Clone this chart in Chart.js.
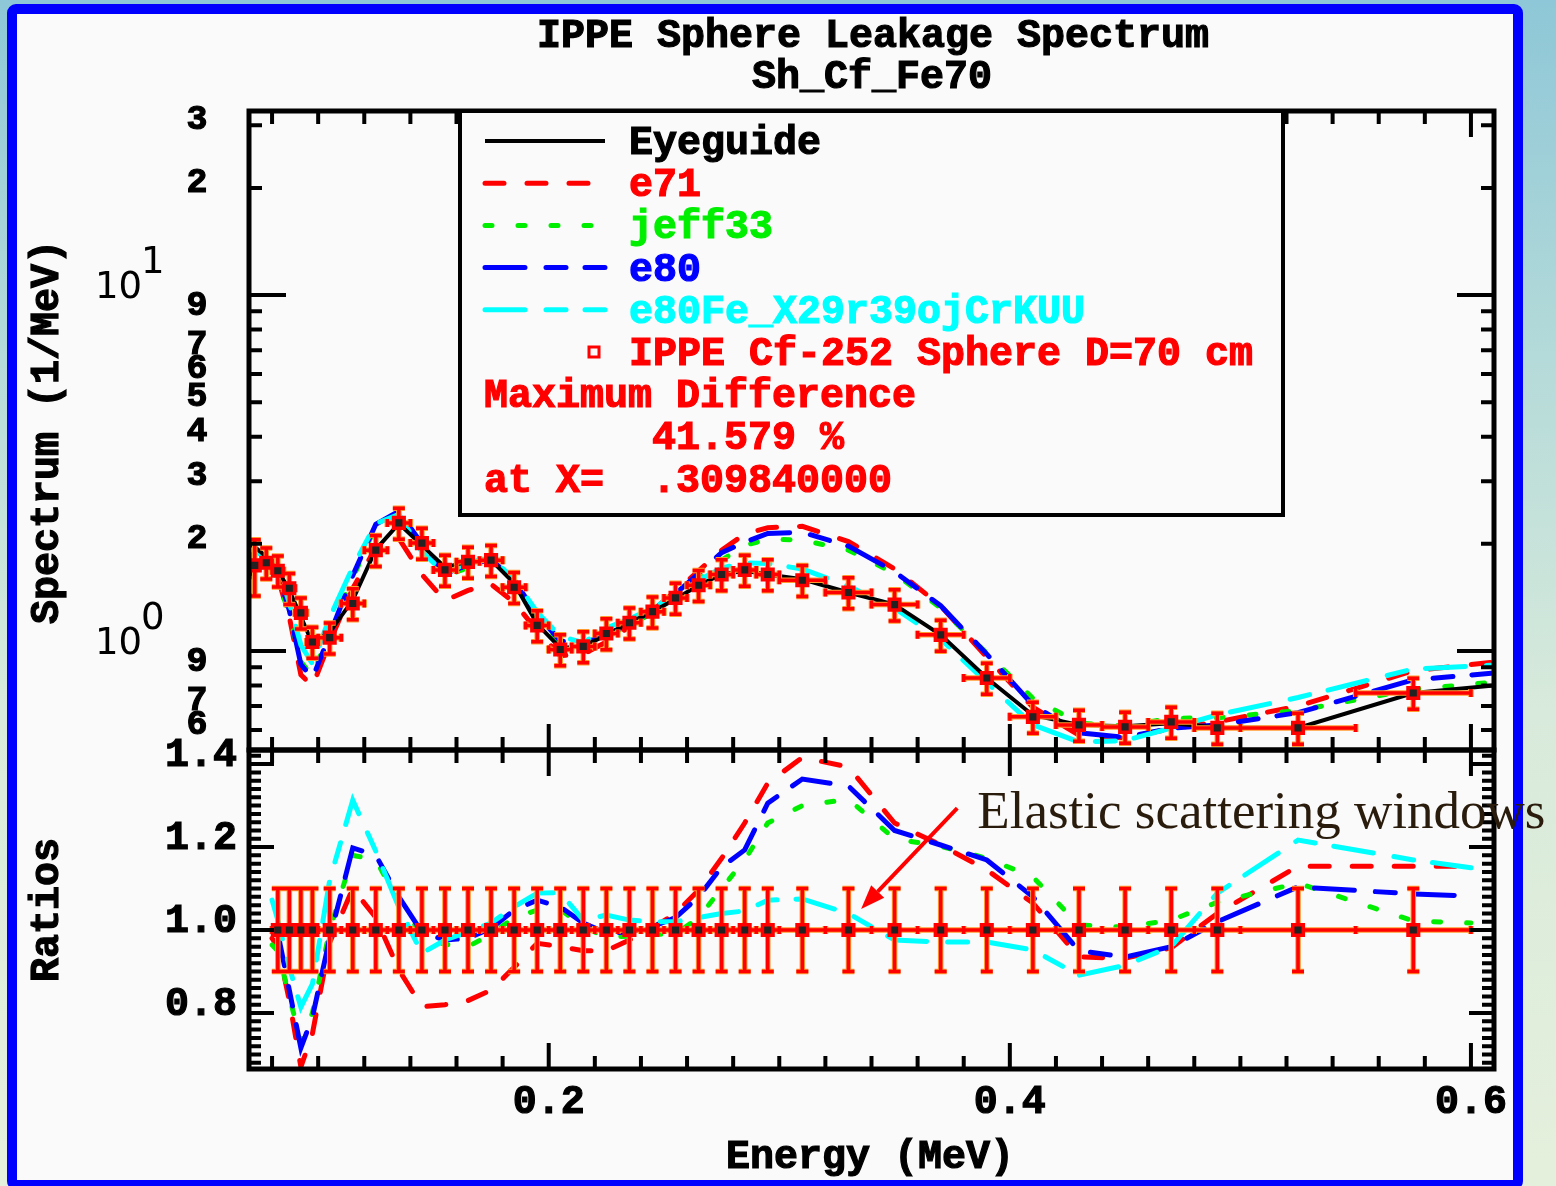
<!DOCTYPE html>
<html lang="en">
<head>
<meta charset="UTF-8">
<title>IPPE Sphere Leakage Spectrum</title>
<script src="https://cdn.jsdelivr.net/npm/chart.js"></script>
<style>
  body { margin: 0; }
  #page {
    position: relative; width: 1556px; height: 1186px; overflow: hidden;
    background: linear-gradient(to bottom, #8ec7d7 0%, #b4dad9 30%, #d8eadb 60%, #e5f0dc 100%);
  }
  #frame {
    position: absolute; left: 7px; top: 4px; width: 1516px; height: 1186px;
    box-sizing: border-box; border: 10px solid #0000ff; border-radius: 9px; background: #fafafa;
  }
  canvas { position: absolute; left: 0; top: 0; }
</style>
</head>
<body>
<div id="page">
  <div id="frame"></div>
  <canvas id="spectrum" width="1556" height="1186"></canvas>
  <canvas id="ratios" width="1556" height="1186"></canvas>
</div>
<script>
// IPPE Cf-252 sphere D=70 cm: energy (MeV), leakage spectrum (1/MeV), relative error, half bin width
const expE = [0.0725, 0.0775, 0.0825, 0.0875, 0.0925, 0.0975, 0.105, 0.115, 0.125, 0.135,
              0.145, 0.155, 0.165, 0.175, 0.185, 0.195, 0.205, 0.215, 0.225, 0.235,
              0.245, 0.255, 0.265, 0.275, 0.285, 0.295, 0.31, 0.33, 0.35, 0.37,
              0.39, 0.41, 0.43, 0.45, 0.47, 0.49, 0.525, 0.575];
const expV = [1.74, 1.77, 1.68, 1.50, 1.28, 1.06, 1.09, 1.36, 1.92, 2.29,
              2.01, 1.69, 1.78, 1.80, 1.51, 1.18, 1.01, 1.03, 1.12, 1.20,
              1.29, 1.41, 1.53, 1.64, 1.69, 1.64, 1.58, 1.46, 1.35, 1.11,
              0.84, 0.653, 0.620, 0.612, 0.632, 0.608, 0.608, 0.762];
const expDY = [0.18, 0.10, 0.10, 0.10, 0.10, 0.10, 0.10, 0.10, 0.10, 0.10,
               0.10, 0.10, 0.10, 0.10, 0.10, 0.10, 0.10, 0.10, 0.10, 0.10,
               0.10, 0.10, 0.10, 0.10, 0.10, 0.10, 0.10, 0.10, 0.10, 0.10,
               0.10, 0.10, 0.10, 0.10, 0.10, 0.10, 0.10, 0.10];
const expDX = [0.0025, 0.0025, 0.0025, 0.0025, 0.0025, 0.0025, 0.005, 0.005, 0.005, 0.005,
               0.005, 0.005, 0.005, 0.005, 0.005, 0.005, 0.005, 0.005, 0.005, 0.005,
               0.005, 0.005, 0.005, 0.005, 0.005, 0.005, 0.01, 0.01, 0.01, 0.01,
               0.01, 0.01, 0.01, 0.01, 0.01, 0.01, 0.025, 0.025];

// calculated spectra (1/MeV)
const calcE = [0.07, 0.0725, 0.0775, 0.0825, 0.0875, 0.0925, 0.0975, 0.105, 0.115, 0.125,
               0.135, 0.145, 0.155, 0.165, 0.175, 0.185, 0.195, 0.205, 0.215, 0.225,
               0.235, 0.245, 0.255, 0.265, 0.275, 0.285, 0.295, 0.31, 0.33, 0.35,
               0.37, 0.39, 0.41, 0.43, 0.45, 0.47, 0.49, 0.525, 0.575, 0.61];
const eyeguide = [2.00, 1.96, 1.84, 1.69, 1.48, 1.25, 1.05, 1.13, 1.39, 1.93,
                  2.28, 1.98, 1.72, 1.78, 1.80, 1.55, 1.19, 1.02, 1.03, 1.11,
                  1.20, 1.29, 1.40, 1.53, 1.64, 1.68, 1.64, 1.59, 1.46, 1.35,
                  1.11, 0.84, 0.66, 0.62, 0.615, 0.627, 0.61, 0.608, 0.762, 0.80];
const e71 = [1.69, 1.74, 1.78, 1.61, 1.245, 0.858, 0.795, 1.06, 1.50, 1.95,
             2.07, 1.64, 1.385, 1.48, 1.54, 1.37, 1.14, 0.97, 0.98, 1.06,
             1.17, 1.30, 1.47, 1.68, 1.92, 2.13, 2.22, 2.24, 2.03, 1.70,
             1.34, 0.96, 0.695, 0.58, 0.57, 0.605, 0.632, 0.70, 0.88, 0.93];
const jeff33 = [1.60, 1.69, 1.78, 1.60, 1.26, 0.934, 0.848, 1.14, 1.60, 2.25,
                2.44, 1.99, 1.63, 1.71, 1.78, 1.555, 1.24, 1.06, 1.04, 1.10,
                1.18, 1.28, 1.40, 1.58, 1.80, 1.98, 2.06, 2.05, 1.92, 1.65,
                1.32, 0.985, 0.737, 0.627, 0.616, 0.647, 0.649, 0.68, 0.78, 0.818];
const e80 = [1.635, 1.71, 1.78, 1.67, 1.30, 0.917, 0.837, 1.11, 1.63, 2.27,
             2.47, 2.00, 1.65, 1.74, 1.81, 1.58, 1.265, 1.067, 1.05, 1.11,
             1.19, 1.30, 1.45, 1.65, 1.89, 2.02, 2.14, 2.155, 1.97, 1.67,
             1.34, 0.98, 0.705, 0.589, 0.572, 0.607, 0.62, 0.671, 0.83, 0.867];
const e80Fe = [1.80, 1.90, 1.84, 1.72, 1.365, 1.04, 0.92, 1.24, 1.72, 2.28,
               2.42, 1.90, 1.65, 1.77, 1.83, 1.59, 1.285, 1.10, 1.055, 1.16,
               1.23, 1.32, 1.44, 1.58, 1.71, 1.77, 1.76, 1.70, 1.52, 1.32,
               1.08, 0.816, 0.62, 0.555, 0.56, 0.607, 0.662, 0.74, 0.89, 0.913];

// C/E ratios
const ratioE = [0.08, 0.0825, 0.0875, 0.0925, 0.0975, 0.105, 0.115, 0.125, 0.135, 0.145,
                0.155, 0.165, 0.175, 0.185, 0.195, 0.205, 0.215, 0.225, 0.235, 0.245,
                0.255, 0.265, 0.275, 0.285, 0.295, 0.31, 0.33, 0.35, 0.37, 0.39,
                0.41, 0.43, 0.45, 0.47, 0.49, 0.525, 0.575, 0.6];
const ratioE71 = [0.98, 0.96, 0.83, 0.67, 0.75, 0.97, 1.10, 1.03, 0.904, 0.815,
                  0.82, 0.83, 0.855, 0.91, 0.968, 0.96, 0.95, 0.95, 0.976, 1.005,
                  1.04, 1.096, 1.173, 1.258, 1.354, 1.416, 1.393, 1.258, 1.205, 1.145,
                  1.065, 0.935, 0.932, 0.957, 1.04, 1.154, 1.154, 1.154];
const ratioJeff33 = [0.964, 0.95, 0.84, 0.73, 0.80, 1.0, 1.18, 1.17, 1.065, 0.99,
                     0.965, 0.96, 0.99, 1.03, 1.048, 1.05, 1.007, 0.983, 0.985, 0.99,
                     0.99, 1.03, 1.10, 1.169, 1.258, 1.30, 1.315, 1.22, 1.202, 1.173,
                     1.128, 1.012, 1.007, 1.024, 1.067, 1.113, 1.022, 1.017];
const ratioE80 = [1.0, 0.993, 0.855, 0.716, 0.79, 0.98, 1.198, 1.18, 1.08, 0.995,
                  0.976, 0.98, 1.004, 1.048, 1.072, 1.056, 1.017, 0.993, 0.995, 1.008,
                  1.03, 1.08, 1.152, 1.193, 1.306, 1.364, 1.347, 1.24, 1.205, 1.169,
                  1.08, 0.95, 0.935, 0.96, 1.02, 1.104, 1.087, 1.082];
const ratioE80Fe = [1.072, 1.024, 0.91, 0.814, 0.87, 1.12, 1.313, 1.19, 1.055, 0.944,
                    0.976, 0.995, 1.017, 1.056, 1.089, 1.09, 1.024, 1.036, 1.024, 1.02,
                    1.02, 1.03, 1.04, 1.046, 1.072, 1.075, 1.04, 0.976, 0.971, 0.971,
                    0.952, 0.891, 0.915, 0.96, 1.089, 1.217, 1.169, 1.15];

// tick labels
const logLabelValues = [30, 20, 9, 7, 6, 5, 4, 3, 2, 0.9, 0.7, 0.6];
const logLabelText = ['3', '2', '9', '7', '6', '5', '4', '3', '2', '9', '7', '6'];
const decadeValues = [10, 1];
const decadeExp = ['1', '0'];
const ratioLabelValues = [1.4, 1.2, 1.0, 0.8];
const ratioLabelText = ['1.4', '1.2', '1.0', '0.8'];
const energyLabelValues = [0.2, 0.4, 0.6];
const energyLabelText = ['0.2', '0.4', '0.6'];

const MONO = '"Liberation Mono", "DejaVu Sans Mono", monospace';
const SANS = '"DejaVu Sans", sans-serif';
const RED = '#ff0000', GREEN = '#00ee00', BLUE = '#0000ff', CYAN = '#00ffff';

function pts(xs, ys) { return xs.map((e, i) => ({ x: e, y: ys[i] })); }

function seg(ctx, x0, y0, x1, y1) { ctx.moveTo(x0, y0); ctx.lineTo(x1, y1); }

// heavy text: fill plus a thin outline in the same colour
function text(ctx, s, x, y, font, color, align, heavy) {
  ctx.font = font;
  ctx.fillStyle = color;
  ctx.textAlign = align || 'left';
  ctx.textBaseline = 'alphabetic';
  ctx.fillText(s, x, y);
  if (heavy) {
    ctx.save();
    ctx.strokeStyle = color;
    ctx.lineWidth = 1.2;
    ctx.setLineDash([]);
    ctx.strokeText(s, x, y);
    ctx.restore();
  }
}

// ticks every 0.02 MeV on top and bottom edges, long ones at 0.2/0.4/0.6
function energyTicks(ctx, chart) {
  const a = chart.chartArea, x = chart.scales.x;
  for (let k = 4; k <= 30; k++) {
    const px = x.getPixelForValue(k / 50);
    const len = k % 10 === 0 ? 26 : 13;
    seg(ctx, px, a.top, px, a.top + len);
    seg(ctx, px, a.bottom, px, a.bottom - len);
  }
}

// error bars of the measured points, drawn right before their squares
const errorBars = {
  id: 'errorBars',
  beforeDatasetDraw(chart, args) {
    const ds = chart.data.datasets[args.index];
    if (!ds.errX) return;
    const { ctx, chartArea: a, scales: { x, y } } = chart;
    ctx.save();
    ctx.beginPath();
    ctx.rect(a.left, a.top, a.right - a.left, a.bottom - a.top);
    ctx.clip();
    ctx.beginPath();
    ds.data.forEach((p, i) => {
      const px = x.getPixelForValue(p.x), py = y.getPixelForValue(p.y);
      const x0 = x.getPixelForValue(p.x - ds.errX[i]), x1 = x.getPixelForValue(p.x + ds.errX[i]);
      const y0 = y.getPixelForValue(p.y * (1 - ds.errY[i])), y1 = y.getPixelForValue(p.y * (1 + ds.errY[i]));
      seg(ctx, x0, py, x1, py);
      seg(ctx, px, y0, px, y1);
      seg(ctx, px - 6, y0, px + 6, y0);
      seg(ctx, px - 6, y1, px + 6, y1);
      seg(ctx, x0, py - 4, x0, py + 4);
      seg(ctx, x1, py - 4, x1, py + 4);
    });
    ctx.strokeStyle = '#ff9a30';
    ctx.lineWidth = 5.5;
    ctx.stroke();
    ctx.strokeStyle = RED;
    ctx.lineWidth = 3.5;
    ctx.stroke();
    ctx.restore();
  }
};

const spectrumDecor = {
  id: 'spectrumDecor',
  afterDatasetsDraw(chart) {
    const { ctx, chartArea: a, scales: { y } } = chart;
    ctx.save();
    ctx.strokeStyle = '#000';
    ctx.lineWidth = 4;
    ctx.beginPath();
    energyTicks(ctx, chart);
    for (let d = -1; d <= 1; d++) {
      for (let m = 1; m <= 9; m++) {
        const v = m * Math.pow(10, d);
        if (v < y.min || v > y.max) continue;
        const py = y.getPixelForValue(v), len = m === 1 ? 37 : 13;
        seg(ctx, a.left, py, a.left + len, py);
        seg(ctx, a.right, py, a.right - len, py);
      }
    }
    ctx.stroke();
    ctx.lineWidth = 5;
    ctx.strokeRect(a.left, a.top, a.right - a.left, a.bottom - a.top);

    // log axis labels
    logLabelValues.forEach((v, i) =>
      text(ctx, logLabelText[i], 197, y.getPixelForValue(v) + 4, 'bold 35px ' + MONO, '#000', 'center', true));
    decadeValues.forEach((v, i) => {
      const py = y.getPixelForValue(v);
      text(ctx, '10', 95, py + 3, '37px ' + SANS, '#000', 'left');
      text(ctx, decadeExp[i], 141, py - 22, '37px ' + SANS, '#000', 'left');
    });

    // titles
    const big = 'bold 40px ' + MONO;
    text(ctx, 'IPPE Sphere Leakage Spectrum', 873, 47, big, '#000', 'center', true);
    text(ctx, 'Sh_Cf_Fe70', 872, 88, big, '#000', 'center', true);
    ctx.save();
    ctx.translate(58, 432);
    ctx.rotate(-Math.PI / 2);
    text(ctx, 'Spectrum (1/MeV)', 0, 0, big, '#000', 'center', true);
    ctx.restore();

    // legend box
    const box = { l: 460, t: a.top, r: 1283, b: 515 };
    ctx.fillStyle = '#fafafa';
    ctx.fillRect(box.l, box.t, box.r - box.l, box.b - box.t);
    ctx.lineWidth = 4;
    ctx.strokeStyle = '#000';
    ctx.strokeRect(box.l, box.t, box.r - box.l, box.b - box.t);

    const rowH = 42.2, row0 = 141;
    const lines = chart.data.datasets.filter(ds => ds.showLine !== false);
    lines.sort((p, q) => p.legendRow - q.legendRow);
    lines.forEach(ds => {
      const cy = row0 + ds.legendRow * rowH;
      ctx.save();
      ctx.strokeStyle = ds.borderColor;
      ctx.lineWidth = ds.borderWidth;
      ctx.lineCap = ds.borderCapStyle || 'butt';
      ctx.setLineDash(ds.borderDash || []);
      ctx.beginPath();
      seg(ctx, 485, cy, 605, cy);
      ctx.stroke();
      ctx.restore();
      text(ctx, ds.label, 629, cy + 13, big, ds.borderColor, 'left', true);
    });
    const my = row0 + 5 * rowH;
    ctx.strokeStyle = RED;
    ctx.lineWidth = 3;
    ctx.strokeRect(589, my - 5, 10, 10);
    text(ctx, 'IPPE Cf-252 Sphere D=70 cm', 629, my + 13, big, RED, 'left', true);
    text(ctx, 'Maximum Difference', 484, row0 + 6 * rowH + 13, big, RED, 'left', true);
    text(ctx, '41.579 %', 652, row0 + 7 * rowH + 13, big, RED, 'left', true);
    text(ctx, 'at X=  .309840000', 484, row0 + 8 * rowH + 13, big, RED, 'left', true);
    ctx.restore();
  }
};

// annotation pointing at the elastic scattering windows (data coordinates)
const arrowTail = { x: 0.3772, y: 1.294 };
const arrowTip = { x: 0.3355, y: 1.051 };
const noteAt = { x: 0.3859, y: 1.2458 };

const ratioDecor = {
  id: 'ratioDecor',
  afterDatasetsDraw(chart) {
    const { ctx, chartArea: a, scales: { x, y } } = chart;
    ctx.save();
    ctx.strokeStyle = '#000';
    ctx.lineWidth = 4;
    ctx.beginPath();
    energyTicks(ctx, chart);
    for (let k = 34; k <= 71; k++) {
      const py = y.getPixelForValue(k / 50);
      const len = k % 10 === 0 ? 25 : 12;
      seg(ctx, a.left, py, a.left + len, py);
      seg(ctx, a.right, py, a.right - len, py);
    }
    ctx.stroke();
    ctx.lineWidth = 5;
    ctx.strokeRect(a.left, a.top, a.right - a.left, a.bottom - a.top);

    const big = 'bold 40px ' + MONO;
    ratioLabelValues.forEach((v, i) =>
      text(ctx, ratioLabelText[i], 237, y.getPixelForValue(v) + 2, big, '#000', 'right', true));
    energyLabelValues.forEach((v, i) =>
      text(ctx, energyLabelText[i], x.getPixelForValue(v), 1113, big, '#000', 'center', true));
    text(ctx, 'Energy (MeV)', 870, 1168, big, '#000', 'center', true);
    ctx.save();
    ctx.translate(58, 910);
    ctx.rotate(-Math.PI / 2);
    text(ctx, 'Ratios', 0, 0, big, '#000', 'center', true);
    ctx.restore();

    // arrow + note
    const tx = x.getPixelForValue(arrowTail.x), ty = y.getPixelForValue(arrowTail.y);
    const hx = x.getPixelForValue(arrowTip.x), hy = y.getPixelForValue(arrowTip.y);
    const ang = Math.atan2(hy - ty, hx - tx), hl = 24, hw = 9;
    const bx = hx - hl * Math.cos(ang), by = hy - hl * Math.sin(ang);
    ctx.strokeStyle = RED;
    ctx.fillStyle = RED;
    ctx.lineWidth = 4;
    ctx.beginPath();
    seg(ctx, tx, ty, bx, by);
    ctx.stroke();
    ctx.beginPath();
    ctx.moveTo(hx, hy);
    ctx.lineTo(bx + hw * Math.sin(ang), by - hw * Math.cos(ang));
    ctx.lineTo(bx - hw * Math.sin(ang), by + hw * Math.cos(ang));
    ctx.closePath();
    ctx.fill();
    text(ctx, 'Elastic scattering windows', x.getPixelForValue(noteAt.x), y.getPixelForValue(noteAt.y),
         '53px "Liberation Serif", "Times New Roman", serif', '#2a1c0c', 'left');
    ctx.restore();
  }
};

const dashE71 = [19, 23], dashJeff = [7, 26], dashLong = [40, 21, 20, 19];

function curve(label, xs, ys, color, dash, row) {
  return {
    label, data: pts(xs, ys), borderColor: color, borderWidth: 5, borderDash: dash,
    borderCapStyle: 'round', pointRadius: 0, fill: false, legendRow: row
  };
}

function expSet(xs, ys, dx, dy) {
  return {
    label: 'IPPE Cf-252 Sphere D=70 cm', data: pts(xs, ys), showLine: false,
    pointStyle: 'rect', pointRadius: 7.5, borderColor: RED, borderWidth: 3.5,
    backgroundColor: '#222', errX: dx, errY: dy
  };
}

const common = {
  responsive: false, animation: false, devicePixelRatio: 1,
  plugins: { legend: { display: false }, tooltip: { enabled: false }, title: { display: false } },
  events: []
};

new Chart(document.getElementById('spectrum'), {
  type: 'line',
  data: {
    datasets: [
      expSet(expE, expV, expDX, expDY),
      Object.assign(curve('Eyeguide', calcE, eyeguide, '#000', [], 0),
                    { borderWidth: 4, borderCapStyle: 'butt' }),
      curve('e80Fe_X29r39ojCrKUU', calcE, e80Fe, CYAN, dashLong, 4),
      curve('e80', calcE, e80, BLUE, dashLong, 3),
      curve('jeff33', calcE, jeff33, GREEN, dashJeff, 2),
      curve('e71', calcE, e71, RED, dashE71, 1)
    ]
  },
  options: Object.assign({}, common, {
    layout: { padding: { left: 249, right: 62, top: 111, bottom: 436 } },
    scales: {
      x: { type: 'linear', min: 0.07, max: 0.61, display: false },
      y: { type: 'logarithmic', min: 0.527, max: 32.9, display: false }
    }
  }),
  plugins: [errorBars, spectrumDecor]
});

const ratioExpE = expE.filter(e => e >= ratioE[0]);
const skip = expE.length - ratioExpE.length;

new Chart(document.getElementById('ratios'), {
  type: 'line',
  data: {
    datasets: [
      expSet(ratioExpE, ratioExpE.map(() => 1), expDX.slice(skip), expDY.slice(skip)),
      curve('e80Fe_X29r39ojCrKUU', ratioE, ratioE80Fe, CYAN, dashLong, 4),
      curve('e80', ratioE, ratioE80, BLUE, dashLong, 3),
      curve('jeff33', ratioE, ratioJeff33, GREEN, dashJeff, 2),
      curve('e71', ratioE, ratioE71, RED, dashE71, 1)
    ]
  },
  options: Object.assign({}, common, {
    layout: { padding: { left: 249, right: 62, top: 750, bottom: 117 } },
    scales: {
      x: { type: 'linear', min: 0.07, max: 0.61, display: false },
      y: { type: 'linear', min: 0.665, max: 1.434, display: false }
    }
  }),
  plugins: [errorBars, ratioDecor]
});
</script>
</body>
</html>
